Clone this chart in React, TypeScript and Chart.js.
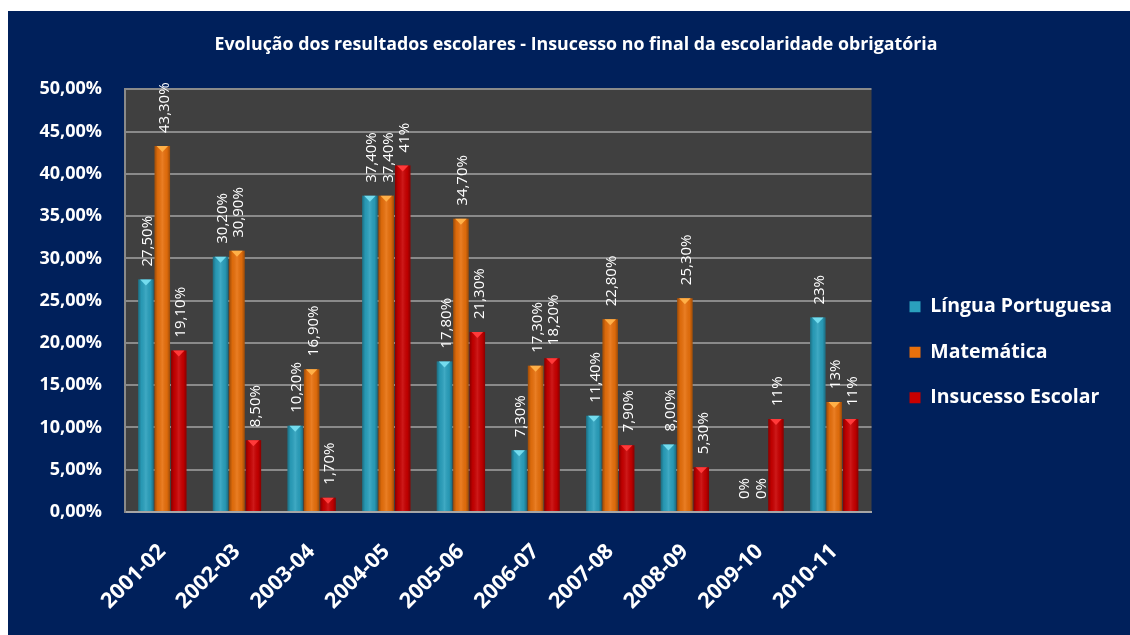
import { useEffect, useRef } from 'react';
import { Chart, registerables } from 'chart.js';

Chart.register(...registerables);

const chartTitle = 'Evolução dos resultados escolares - Insucesso no final da escolaridade obrigatória';
const categories = ['2001-02', '2002-03', '2003-04', '2004-05', '2005-06', '2006-07', '2007-08', '2008-09', '2009-10', '2010-11'];
const seriesNames = ['Língua Portuguesa', 'Matemática', 'Insucesso Escolar'];
const linguaPortuguesa = [27.5, 30.2, 10.2, 37.4, 17.8, 7.3, 11.4, 8.0, 0, 23];
const matematica = [43.3, 30.9, 16.9, 37.4, 34.7, 17.3, 22.8, 25.3, 0, 13];
const insucessoEscolar = [19.1, 8.5, 1.7, 41, 21.3, 18.2, 7.9, 5.3, 11, 11];
const lpLabels = ['27,50%', '30,20%', '10,20%', '37,40%', '17,80%', '7,30%', '11,40%', '8,00%', '0%', '23%'];
const matLabels = ['43,30%', '30,90%', '16,90%', '37,40%', '34,70%', '17,30%', '22,80%', '25,30%', '0%', '13%'];
const ieLabels = ['19,10%', '8,50%', '1,70%', '41%', '21,30%', '18,20%', '7,90%', '5,30%', '11%', '11%'];
const yMin = 0;
const yMax = 50;
const yStep = 5;

const barColors = ['#2aa0bd', '#e8700c', '#c80000'];
const capColors = ['#74dcee', '#ffb048', '#ff3a3a'];
const valueLabels = [lpLabels, matLabels, ieLabels];

const FONT = '"Open Sans", "DejaVu Sans", sans-serif';
const PAD_LEFT = 22;
const PAD_RIGHT = 8;

const decorPlugin = {
  id: 'decor',
  beforeDraw(chart: any) {
    const { ctx, chartArea: a } = chart;
    ctx.save();
    ctx.fillStyle = '#404040';
    ctx.fillRect(a.left, a.top, a.right - a.left, a.bottom - a.top);
    ctx.restore();
  },
  afterDatasetsDraw(chart: any) {
    const ctx = chart.ctx;
    chart.data.datasets.forEach((_ds: any, di: number) => {
      const meta = chart.getDatasetMeta(di);
      meta.data.forEach((bar: any, i: number) => {
        const { x, y, base, width } = bar.getProps(['x', 'y', 'base', 'width'], true);
        const l = x - width / 2;
        const r = x + width / 2;
        ctx.save();
        if (base - y > 1) {
          const g = ctx.createLinearGradient(l, 0, r, 0);
          g.addColorStop(0, 'rgba(0,0,0,0.32)');
          g.addColorStop(0.2, 'rgba(0,0,0,0.05)');
          g.addColorStop(0.5, 'rgba(255,255,255,0.10)');
          g.addColorStop(0.8, 'rgba(0,0,0,0.05)');
          g.addColorStop(1, 'rgba(0,0,0,0.32)');
          ctx.fillStyle = g;
          ctx.fillRect(l, y, width, base - y);
          ctx.fillStyle = capColors[di];
          ctx.beginPath();
          ctx.moveTo(l + 2, y);
          ctx.lineTo(r - 2, y);
          ctx.lineTo(x, y + 6);
          ctx.closePath();
          ctx.fill();
        }
        ctx.translate(x + 2, y - 13);
        ctx.rotate(-Math.PI / 2);
        ctx.font = `15px ${FONT}`;
        ctx.fillStyle = '#ffffff';
        ctx.textAlign = 'left';
        ctx.textBaseline = 'middle';
        ctx.fillText(valueLabels[di][i], 0, 0);
        ctx.restore();
      });
    });
  },
};

export default function App() {
  const canvasRef = useRef<HTMLCanvasElement | null>(null);

  useEffect(() => {
    if (!canvasRef.current) return;
    Chart.defaults.font.family = FONT;
    const chart = new Chart(canvasRef.current, {
      type: 'bar',
      data: {
        labels: categories,
        datasets: [
          { label: seriesNames[0], data: linguaPortuguesa, backgroundColor: barColors[0], borderWidth: 0 },
          { label: seriesNames[1], data: matematica, backgroundColor: barColors[1], borderWidth: 0 },
          { label: seriesNames[2], data: insucessoEscolar, backgroundColor: barColors[2], borderWidth: 0 },
        ],
      },
      options: {
        animation: false,
        responsive: true,
        maintainAspectRatio: false,
        layout: { padding: { left: PAD_LEFT, right: PAD_RIGHT, top: 0, bottom: 0 } },
        datasets: { bar: { categoryPercentage: 0.66, barPercentage: 0.94 } },
        plugins: {
          title: {
            display: true,
            text: chartTitle,
            color: '#ffffff',
            font: { size: 17.8, weight: 'bold' },
            padding: { top: 23, bottom: 34 },
          },
          legend: {
            position: 'right',
            align: 'center',
            maxWidth: 320,
            title: { display: true, text: '', font: { size: 12 }, padding: { top: 0, bottom: 44 } },
            labels: {
              color: '#ffffff',
              font: { size: 19.5, weight: 'bold' },
              boxWidth: 11,
              boxHeight: 11,
              padding: 26,
            },
          },
          tooltip: { enabled: false },
        },
        scales: {
          x: {
            grid: { display: false, drawTicks: false },
            border: { display: true, color: '#a6a6a6', width: 2 },
            ticks: {
              color: '#ffffff',
              font: { size: 21.5, weight: 'bold' },
              minRotation: 45,
              maxRotation: 45,
              padding: 27,
              autoSkip: false,
            },
            afterFit: (s: any) => { s.height = 123; },
          },
          y: {
            min: yMin,
            max: yMax,
            grid: { color: '#8a8a8a', lineWidth: 2, drawTicks: false },
            border: { display: true, color: '#8a8a8a', width: 2 },
            ticks: {
              stepSize: yStep,
              color: '#ffffff',
              font: { size: 18, weight: 'bold' },
              padding: 23,
              callback: (v: any) => Number(v).toFixed(2).replace('.', ',') + '%',
            },
            afterFit: (s: any) => { s.width = 117 - PAD_LEFT; },
          },
          y2: {
            position: 'right',
            display: true,
            grid: { display: false, drawTicks: false },
            border: { display: false },
            ticks: { display: false },
            afterFit: (s: any) => { s.width = 12; },
          },
        },
      },
      plugins: [decorPlugin],
    } as any);
    return () => chart.destroy();
  }, []);

  return (
    <div style={{ position: 'fixed', left: 8, top: 11, width: 1122, height: 624, background: '#00205b' }}>
      <canvas ref={canvasRef} />
    </div>
  );
}
